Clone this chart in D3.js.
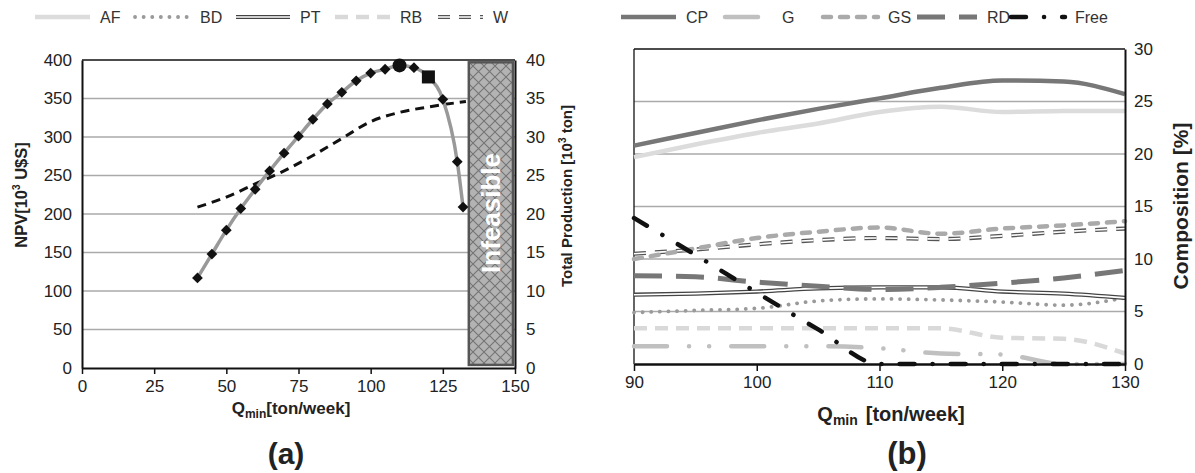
<!DOCTYPE html>
<html>
<head>
<meta charset="utf-8">
<script src="https://cdn.jsdelivr.net/npm/d3@7"></script>
<style>
  body { margin: 0; background: #fff; }
  text { font-family: Arial, "Liberation Sans", sans-serif; fill: #222; }
</style>
</head>
<body>
<svg id="chart" width="1195" height="473"></svg>
<script>
// --- Dados (a) ---
const qA = [40, 45, 50, 55, 60, 65, 70, 75, 80, 85, 90, 95, 100, 105, 110, 115, 120, 125, 130, 132];
const npv = [117, 148, 179, 207, 232, 256, 279, 301, 323, 343, 358, 373, 383, 388, 393, 390, 378, 349, 268, 209];
const qProd = [40, 50, 60, 70, 80, 90, 100, 110, 120, 125, 133];
const production = [20.9, 22.2, 23.9, 25.6, 27.6, 29.8, 32.0, 33.2, 33.9, 34.2, 34.6];
const bestQ = 110;      // ponto ótimo (círculo)
const chosenQ = 120;    // ponto escolhido (quadrado)
const infeasibleQ = [134, 149.3];
const infeasibleNpv = [4, 397];
const xTicksA = [0, 25, 50, 75, 100, 125, 150];
const yTicksA = [0, 50, 100, 150, 200, 250, 300, 350, 400];
const yTicksA2 = [0, 5, 10, 15, 20, 25, 30, 35, 40];

// --- Dados (b) ---
const qB = [90, 95, 100, 105, 110, 115, 120, 125, 130];
const AF = [19.7, 20.9, 22.0, 22.9, 24.0, 24.5, 24.0, 24.1, 24.1];
const BD = [4.9, 5.1, 5.3, 6.0, 6.2, 6.1, 5.9, 5.6, 6.3];
const PT = [6.6, 6.7, 6.9, 7.2, 7.3, 7.3, 6.9, 6.7, 6.3];
const RB = [3.4, 3.4, 3.4, 3.4, 3.4, 3.4, 2.5, 2.4, 1.0];
const W = [10.5, 10.9, 11.4, 11.8, 12.0, 11.9, 12.2, 12.6, 12.9];
const CP = [20.8, 22.0, 23.2, 24.3, 25.3, 26.3, 27.0, 26.9, 25.7];
const G = [1.7, 1.7, 1.7, 1.7, 1.5, 1.0, 0.9, 0.0, 0.0];
const GS = [10.0, 11.0, 12.0, 12.6, 13.0, 12.4, 12.9, 13.2, 13.6];
const RD = [8.4, 8.3, 7.8, 7.4, 7.1, 7.3, 7.7, 8.2, 8.9];
const Free = [13.9, 10.4, 6.8, 3.3, 0, 0, 0, 0, 0];
const seriesNames = ["AF", "BD", "PT", "RB", "W", "CP", "G", "GS", "RD", "Free"];
const seriesValues = [AF, BD, PT, RB, W, CP, G, GS, RD, Free];
const xTicksB = [90, 100, 110, 120, 130];
const yTicksB = [0, 5, 10, 15, 20, 25, 30];

// estilos de linha
const styles = {
  AF:   { color: "#dcdcdc", width: 4.5 },
  BD:   { color: "#9a9a9a", width: 3.8, dash: "0.1,8.5", cap: "round" },
  PT:   { color: "#444", width: 4.2, inner: 1.6 },
  RB:   { color: "#d9d9d9", width: 4.5, dash: "13,8" },
  W:    { color: "#555", width: 4.2, inner: 1.6, dash: "12,9" },
  CP:   { color: "#777", width: 4.5 },
  G:    { color: "#c0c0c0", width: 4.5, dash: "33,22,0.1,20,0.1,22", cap: "round" },
  GS:   { color: "#aaa", width: 4.5, dash: "8,9", cap: "round" },
  RD:   { color: "#777", width: 5, dash: "28,14" },
  Free: { color: "#111", width: 4.5, dash: "15,18,0.1,18", cap: "round" }
};

const svg = d3.select("#chart");

// padrão hachurado
const defs = svg.append("defs");
const pat = defs.append("pattern")
    .attr("id", "hatch")
    .attr("patternUnits", "userSpaceOnUse")
    .attr("width", 11).attr("height", 11);
pat.append("rect").attr("width", 11).attr("height", 11).attr("fill", "#b3b3b3");
pat.append("path").attr("d", "M0,0L11,11M11,0L0,11").attr("stroke", "#747474").attr("stroke-width", 1.1);

// ================= (a) =================
const xA = d3.scaleLinear().domain([0, 150]).range([82, 515]);
const yA = d3.scaleLinear().domain([0, 400]).range([368, 60]);
const yA2 = d3.scaleLinear().domain([0, 40]).range([368, 60]);

const gA = svg.append("g");

gA.selectAll(".gridA").data(yTicksA.slice(1, -1)).enter().append("line")
    .attr("x1", xA(0)).attr("x2", xA(150))
    .attr("y1", d => yA(d)).attr("y2", d => yA(d))
    .attr("stroke", "#aaa").attr("stroke-width", 1.5);

// caixa inviável
gA.append("rect")
    .attr("x", xA(infeasibleQ[0]))
    .attr("y", yA(infeasibleNpv[1]))
    .attr("width", xA(infeasibleQ[1]) - xA(infeasibleQ[0]))
    .attr("height", yA(infeasibleNpv[0]) - yA(infeasibleNpv[1]))
    .attr("fill", "url(#hatch)")
    .attr("stroke", "#555").attr("stroke-width", 2.5);
gA.append("text")
    .attr("transform", `translate(${(xA(infeasibleQ[0]) + xA(infeasibleQ[1])) / 2 + 9},213) rotate(-90)`)
    .attr("text-anchor", "middle")
    .style("font-size", "26px").style("font-weight", "bold").style("fill", "#fff")
    .text("Infeasible");

// borda superior
gA.append("line").attr("x1", xA(0)).attr("x2", xA(150)).attr("y1", yA(400)).attr("y2", yA(400))
    .attr("stroke", "#111").attr("stroke-width", 1.5);

function styleAxis(sel, size) {
  sel.select(".domain").attr("stroke", "#111").attr("stroke-width", 2);
  sel.selectAll(".tick line").attr("stroke", "#111").attr("stroke-width", 1.5);
  sel.selectAll(".tick text").style("font-size", size + "px").style("fill", "#222")
     .style("font-family", "Arial, 'Liberation Sans', sans-serif");
}

gA.append("g").attr("transform", `translate(0,${yA(0)})`)
    .call(d3.axisBottom(xA).tickValues(xTicksA).tickSize(6).tickSizeOuter(0).tickPadding(6))
    .call(s => styleAxis(s, 17));
gA.append("g").attr("transform", `translate(${xA(0)},0)`)
    .call(d3.axisLeft(yA).tickValues(yTicksA).tickSize(0).tickPadding(10))
    .call(s => styleAxis(s, 17));
gA.append("g").attr("transform", `translate(${xA(150)},0)`)
    .call(d3.axisRight(yA2).tickValues(yTicksA2).tickSize(0).tickPadding(11))
    .call(s => styleAxis(s, 17));

// produção total (tracejada)
gA.append("path")
    .datum(qProd.map((q, i) => [q, production[i]]))
    .attr("fill", "none").attr("stroke", "#111").attr("stroke-width", 3)
    .attr("stroke-dasharray", "9,6")
    .attr("d", d3.line().x(d => xA(d[0])).y(d => yA2(d[1])).curve(d3.curveMonotoneX));

// VPL
const npvData = qA.map((q, i) => ({ q: q, v: npv[i] }));
gA.append("path")
    .datum(npvData)
    .attr("fill", "none").attr("stroke", "#999").attr("stroke-width", 3.5)
    .attr("d", d3.line().x(d => xA(d.q)).y(d => yA(d.v)).curve(d3.curveMonotoneX));

gA.selectAll(".mk").data(npvData.filter(d => d.q !== bestQ && d.q !== chosenQ)).enter()
    .append("path")
    .attr("d", d3.symbol(d3.symbolSquare, 58))
    .attr("transform", d => `translate(${xA(d.q)},${yA(d.v)}) rotate(45)`)
    .attr("fill", "#111");
npvData.filter(d => d.q === bestQ).forEach(d => {
  gA.append("circle").attr("cx", xA(d.q)).attr("cy", yA(d.v)).attr("r", 7).attr("fill", "#111");
});
npvData.filter(d => d.q === chosenQ).forEach(d => {
  gA.append("path").attr("d", d3.symbol(d3.symbolSquare, 170))
    .attr("transform", `translate(${xA(d.q)},${yA(d.v)})`).attr("fill", "#111");
});

// títulos (a)
gA.append("text").attr("transform", "translate(27,195) rotate(-90)")
    .attr("text-anchor", "middle").style("font-size", "16.5px").style("font-weight", "bold")
    .html('NPV[10<tspan dy="-7" font-size="10px">3</tspan><tspan dy="7"> U$S]</tspan>');
gA.append("text").attr("transform", "translate(572,196) rotate(-90)")
    .attr("text-anchor", "middle").style("font-size", "15px").style("font-weight", "bold")
    .html('Total Production [10<tspan dy="-6" font-size="10px">3</tspan><tspan dy="6"> ton]</tspan>');
gA.append("text").attr("x", 291).attr("y", 414)
    .attr("text-anchor", "middle").style("font-size", "17px").style("font-weight", "bold")
    .html('Q<tspan dy="4" font-size="12px">min</tspan><tspan dy="-4">[ton/week]</tspan>');
gA.append("text").attr("x", 286).attr("y", 464)
    .attr("text-anchor", "middle").style("font-size", "30px").style("font-weight", "bold")
    .text("(a)");

// ================= (b) =================
const xB = d3.scaleLinear().domain([90, 130]).range([634, 1125]);
const yB = d3.scaleLinear().domain([0, 30]).range([364, 49]);
const gB = svg.append("g");

gB.selectAll(".gridB").data(yTicksB.slice(1, -1)).enter().append("line")
    .attr("x1", xB(90)).attr("x2", xB(130))
    .attr("y1", d => yB(d)).attr("y2", d => yB(d))
    .attr("stroke", "#aaa").attr("stroke-width", 1.5);
gB.append("line").attr("x1", xB(90)).attr("x2", xB(130)).attr("y1", yB(30)).attr("y2", yB(30))
    .attr("stroke", "#111").attr("stroke-width", 1.3);
gB.append("line").attr("x1", xB(90)).attr("x2", xB(90)).attr("y1", yB(30)).attr("y2", yB(0))
    .attr("stroke", "#111").attr("stroke-width", 1.3);

const lineB = d3.line().x(d => xB(d[0])).y(d => yB(d[1])).curve(d3.curveMonotoneX);

function drawStyled(g, name, dAttr) {
  const st = styles[name];
  const p = g.append("path").attr("d", dAttr).attr("fill", "none")
      .attr("stroke", st.color).attr("stroke-width", st.width)
      .attr("stroke-linecap", st.cap || "butt");
  if (st.dash) p.attr("stroke-dasharray", st.dash);
  if (st.inner) {
    const p2 = g.append("path").attr("d", dAttr).attr("fill", "none")
        .attr("stroke", "#fff").attr("stroke-width", st.inner);
    if (st.dash) p2.attr("stroke-dasharray", st.dash);
  }
}

seriesNames.forEach((name, i) => {
  const pts = qB.map((q, j) => [q, seriesValues[i][j]]);
  drawStyled(gB, name, lineB(pts));
});

gB.append("g").attr("transform", `translate(0,${yB(0)})`)
    .call(d3.axisBottom(xB).tickValues(xTicksB).tickSize(7).tickSizeOuter(0).tickPadding(5))
    .call(s => styleAxis(s, 17))
    .call(s => s.select(".domain").attr("stroke-width", 2.5));
gB.append("g").attr("transform", `translate(${xB(130)},0)`)
    .call(d3.axisRight(yB).tickValues(yTicksB).tickSize(0).tickPadding(9))
    .call(s => styleAxis(s, 17));

gB.append("text").attr("transform", "translate(1188,206) rotate(-90)")
    .attr("text-anchor", "middle").style("font-size", "21px").style("font-weight", "bold")
    .text("Composition [%]");
gB.append("text").attr("x", 891).attr("y", 421)
    .attr("text-anchor", "middle").style("font-size", "20px").style("font-weight", "bold")
    .html('Q<tspan dy="4" font-size="14px">min</tspan><tspan dy="-4" dx="8">[ton/week]</tspan>');
gB.append("text").attr("x", 907).attr("y", 464)
    .attr("text-anchor", "middle").style("font-size", "31px").style("font-weight", "bold")
    .text("(b)");

// --- Legenda ---
const legendX = [35, 135, 236, 335, 438, 621, 725, 823, 917, 1011];
const legendLen = [55, 55, 54, 55, 45, 55, 47, 55, 60, 54];
const legend = svg.append("g");
seriesNames.forEach((name, i) => {
  const x0 = legendX[i], x1 = legendX[i] + legendLen[i];
  drawStyled(legend, name, `M${x0},17L${x1},17`);
  legend.append("text").attr("x", x1 + 10).attr("y", 23)
      .style("font-size", "16px").style("fill", "#333").text(name);
});
</script>
</body>
</html>
